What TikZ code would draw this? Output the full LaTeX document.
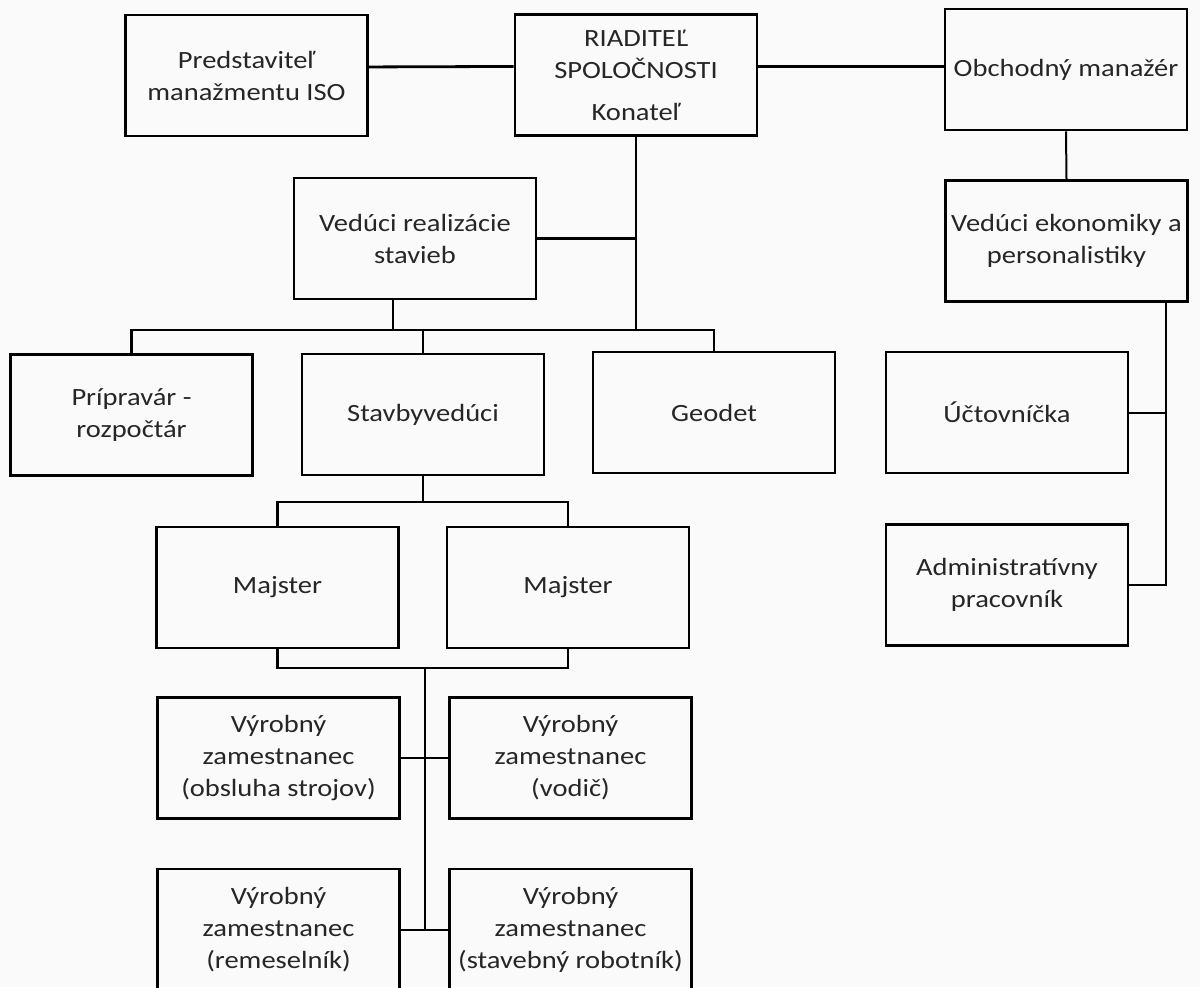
\documentclass[tikz,border=0pt]{standalone}
\usepackage{fontspec}
\setmainfont{Carlito}[FakeStretch=1.15]
\usetikzlibrary{calc}

\begin{document}
\begin{tikzpicture}[x=0.5pt,y=-0.5pt,
    box/.style={draw, line width=1.4pt, minimum width=121pt, minimum height=60.5pt,
        inner sep=0pt, align=center, text=black!85, font=\fontsize{12.4}{16}\selectfont},
    link/.style={line width=1.4pt},
    thinlink/.style={line width=1pt}]
    % Page size and paper tone
    \fill[black!2] (0,0) rectangle (1200,987);
    \useasboundingbox (0,0) rectangle (1200,987);

    % Top row: director with ISO and sales manager
    \node[box] (iso) at (246.5,75.5) {Predstaviteľ\\manažmentu ISO};
    \node[box] (riad) at (636,75) {RIADITEĽ\\SPOLOČNOSTI\\[5pt]Konateľ};
    \node[box] (obch) at (1066,69.5) {Obchodný manažér};

    % Second row
    \node[box] (ved) at (415,238.5) {Vedúci realizácie\\stavieb};
    \node[box] (ekon) at (1066.5,241) {Vedúci ekonomiky a\\personalistiky};

    % Third row
    \node[box] (prip) at (131.5,415) {Prípravár -\\rozpočtár};
    \node[box] (stav) at (423,414.5) {Stavbyvedúci};
    \node[box] (geo) at (714,412.5) {Geodet};
    \node[box] (uct) at (1007,412.5) {Účtovníčka};

    % Foremen and office staff
    \node[box] (maj1) at (277.5,587.5) {Majster};
    \node[box] (maj2) at (568,587.5) {Majster};
    \node[box] (adm) at (1007,585) {Administratívny\\pracovník};

    % Production workers
    \node[box] (v1) at (278.5,758) {Výrobný\\zamestnanec\\(obsluha strojov)};
    \node[box] (v2) at (570.5,758) {Výrobný\\zamestnanec\\(vodič)};
    \node[box] (v3) at (278.5,929.5) {Výrobný\\zamestnanec\\(remeselník)};
    \node[box] (v4) at (570.5,929.5) {Výrobný\\zamestnanec\\(stavebný robotník)};

    % Junction points of the tree
    \coordinate (hub) at (636,330);
    \coordinate (sHub) at (423,502);
    \coordinate (wHub) at (425,668);
    \coordinate (vedDown) at ($(ved.south west)!0.41!(ved.south east)$);
    \coordinate (rail) at ($(ekon.south east)+(-23,0)$);

    % Top links
    \draw[link] (iso.4) -- (riad.176);
    \draw[link] (riad.4) -- (riad.4 -| obch.west);
    \draw[thinlink] (obch.south) -- (ekon.north);

    % Main trunk and the bus under it
    \draw[link] (riad.south) -- (hub);
    \draw[link] (ved.east) -- (ved.east -| hub);
    \draw[link] (vedDown) -- (vedDown |- hub);
    \draw[link] (prip.north) |- (hub);
    \draw[link] (geo.north) |- (hub);
    \draw[link] (stav.north) -- (stav.north |- hub);

    % Site manager to foremen
    \draw[link] (stav.south) -- (sHub);
    \draw[link] (maj1.north) |- (sHub) -| (maj2.north);

    % Foremen to workers
    \draw[link] (maj1.south) |- (wHub) -| (maj2.south);
    \draw[link] (wHub) -- (wHub |- v3.east);
    \draw[thinlink] (v1.east) -- (v2.west);
    \draw[thinlink] (v3.east) -- (v4.west);

    % Economics branch on the right
    \draw[thinlink] (rail) |- (adm.east);
    \draw[thinlink] (uct.east) -- (uct.east -| rail);

\end{tikzpicture}
\end{document}
